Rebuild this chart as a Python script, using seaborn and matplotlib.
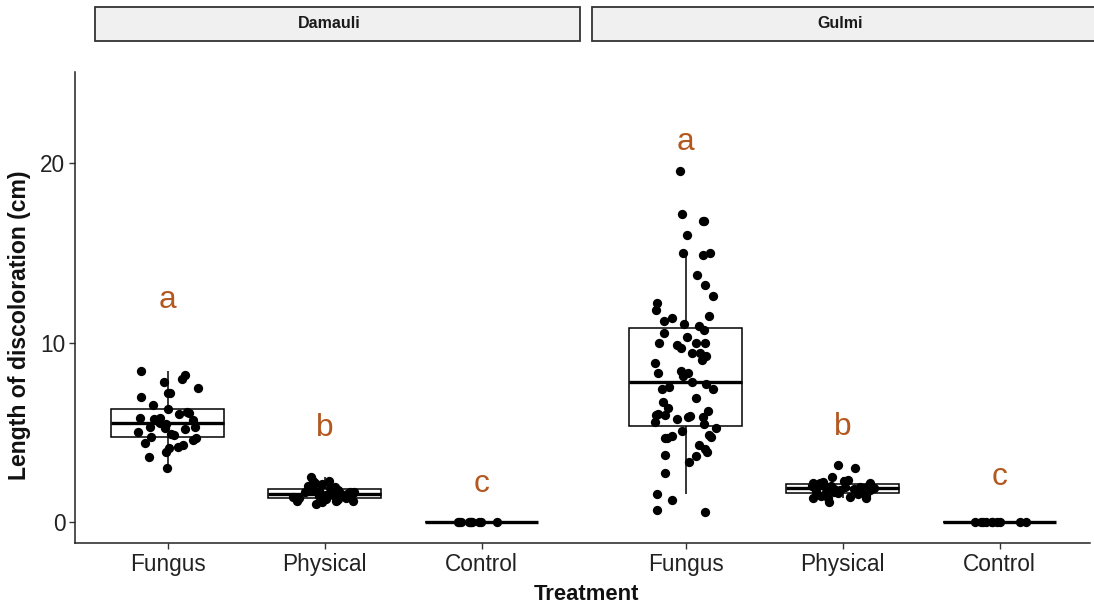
import numpy as np
import pandas as pd
import matplotlib
matplotlib.use("Agg")
import matplotlib.pyplot as plt
from matplotlib.patches import Rectangle
import seaborn as sns

# ---- data -------------------------------------------------------------
sites = ["Damauli", "Gulmi"]
treatments = ["Fungus", "Physical", "Control"]

damauli_fungus = [8.4, 8.2, 7.8, 8.0, 7.5, 7.2, 7.2, 7.0, 6.5, 6.3, 6.0, 6.15,
                  5.8, 5.8, 5.75, 5.7, 5.3, 5.25, 5.3, 5.0, 4.85, 4.7, 4.75,
                  4.9, 4.6, 4.4, 4.15, 4.3, 4.2, 3.9, 3.65, 3.0, 5.5, 5.45,
                  5.6, 6.1, 5.2]
damauli_physical = [2.3, 2.3, 2.5, 2.1, 2.2, 1.95, 1.0, 1.1, 1.8, 1.75, 1.7,
                    1.65, 1.6, 1.6, 1.55, 1.5, 1.5, 1.45, 1.4, 1.35, 1.3, 1.3,
                    1.25, 1.2, 1.2, 1.15, 1.85, 1.9, 2.0, 1.7, 1.6, 1.55, 1.4,
                    1.35]
damauli_control = [0.0] * 10

gulmi_fungus = [19.6, 17.2, 16.8, 16.8, 16.0, 15.0, 14.9, 15.0, 13.8, 13.2,
                12.6, 12.2, 11.5, 11.4, 11.06, 10.7, 10.95, 10.56, 10.0, 10.0,
                9.9, 10.0, 9.7, 9.44, 9.4, 9.27, 9.05, 8.88, 8.44, 8.16, 8.32,
                8.32, 7.82, 7.7, 7.43, 7.43, 7.54, 6.93, 6.7, 6.37, 5.92, 5.98,
                5.87, 6.2, 5.98, 5.87, 5.47, 5.25, 4.8, 4.69, 4.86, 4.75, 4.69,
                5.08, 4.3, 3.91, 3.74, 3.69, 4.08, 3.35, 2.74, 1.56, 1.23,
                0.56, 0.67, 5.6, 5.75, 6.05, 11.2, 11.8, 10.3]
gulmi_physical = [3.0, 3.2, 2.2, 2.5, 2.35, 2.2, 1.9, 1.7, 2.0, 1.9, 1.8, 1.8,
                  1.95, 1.5, 1.4, 1.35, 1.35, 1.35, 1.12, 2.1, 2.05, 2.15, 1.85,
                  1.75, 1.65, 1.6, 2.25, 2.3, 1.95, 2.0, 1.55, 1.45, 2.1, 1.85]
gulmi_control = [0.0] * 10

# significance letters and the height at which each is written
damauli_letters = ["a", "b", "c"]
damauli_letter_y = [12.4, 5.25, 2.1]
gulmi_letters = ["a", "b", "c"]
gulmi_letter_y = [21.2, 5.3, 2.5]

# ---- layout helpers ---------------------------------------------------
site_offset = {"Damauli": 0.0, "Gulmi": 3.3}
site_whis = {"Damauli": 1.5, "Gulmi": 0.75}
treat_index = {t: i for i, t in enumerate(treatments)}

groups = {
    ("Damauli", "Fungus"): damauli_fungus,
    ("Damauli", "Physical"): damauli_physical,
    ("Damauli", "Control"): damauli_control,
    ("Gulmi", "Fungus"): gulmi_fungus,
    ("Gulmi", "Physical"): gulmi_physical,
    ("Gulmi", "Control"): gulmi_control,
}
rows = []
for (site, treat), vals in groups.items():
    for v in vals:
        rows.append({"site": site, "treatment": treat, "length": v,
                     "pos": site_offset[site] + treat_index[treat]})
df = pd.DataFrame(rows)

# ---- figure -----------------------------------------------------------
sns.set_theme(style="ticks")
plt.rcParams["font.family"] = ["Liberation Sans", "DejaVu Sans"]

W, H = 1094, 607
fig = plt.figure(figsize=(W / 100, H / 100), dpi=100)
ax = fig.add_axes([75 / W, 64 / H, 1015 / W, 471 / H])

for site in sites:
    sns.boxplot(data=df[df["site"] == site], x="pos", y="length",
                native_scale=True, ax=ax, color="white", linecolor="black",
                width=0.72, showfliers=False, linewidth=1.1,
                whis=site_whis[site],
                medianprops=dict(linewidth=2.4, color="black"),
                capprops=dict(linewidth=0))

np.random.seed(7)
sns.stripplot(data=df, x="pos", y="length", native_scale=True, ax=ax,
              color="black", size=6.7, jitter=0.2, linewidth=0, zorder=5)

letter_color = "#B3581F"
for site, letters, ys in [("Damauli", damauli_letters, damauli_letter_y),
                          ("Gulmi", gulmi_letters, gulmi_letter_y)]:
    for treat, lab, yv in zip(treatments, letters, ys):
        ax.text(site_offset[site] + treat_index[treat], yv, lab,
                color=letter_color, fontsize=22.8, ha="center", va="center")

positions = [site_offset[s] + treat_index[t] for s in sites for t in treatments]
labels = [t for s in sites for t in treatments]
ax.set_xticks(positions)
ax.set_xticklabels(labels)
ax.set_xlim(-0.59, 5.875)
ax.set_ylim(-1.17, 25.1)
ax.set_yticks([0, 10, 20])
ax.set_xlabel("")
ax.set_ylabel("")

for side in ["top", "right"]:
    ax.spines[side].set_visible(False)
for side in ["left", "bottom"]:
    ax.spines[side].set_color("#222222")
    ax.spines[side].set_linewidth(1.1)
ax.tick_params(axis="both", length=4, width=1, color="#333333",
               labelsize=16.3, labelcolor="#222222", pad=3)

fig.text(587 / W, 1 - 595 / H, "Treatment", fontsize=15.8, fontweight="bold",
         ha="center", va="center", color="#111111")
fig.text(20 / W, 1 - 325 / H, "Length of discoloration (cm)", fontsize=16.6,
         fontweight="bold", rotation=90, ha="center", va="center",
         color="#111111")

# facet strips
for site, (x0, x1), cx in zip(sites, [(95, 580), (592, 1100)], [329, 840]):
    fig.patches.append(Rectangle((x0 / W, 1 - 41 / H), (x1 - x0) / W, 34 / H,
                                 transform=fig.transFigure, facecolor="#F0F0F0",
                                 edgecolor="#333333", linewidth=1.3))
    fig.text(cx / W, 1 - 24 / H, site, fontsize=11.5, fontweight="bold",
             ha="center", va="center", color="#1a1a1a")

fig.savefig("out.png", dpi=100)
